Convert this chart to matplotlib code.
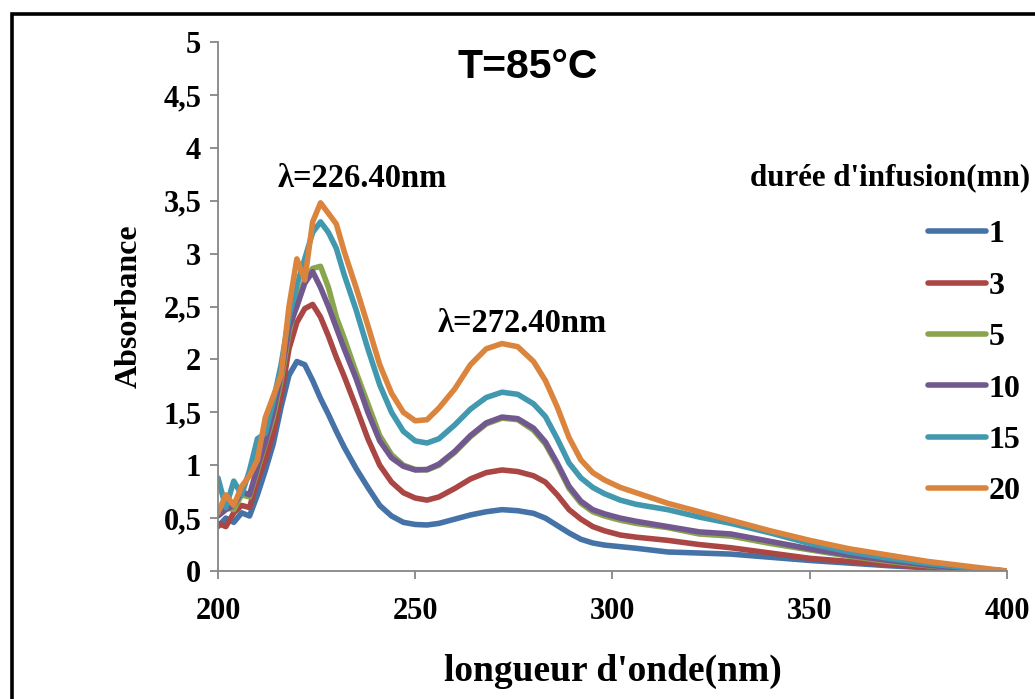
import matplotlib
matplotlib.use("Agg")
import matplotlib.pyplot as plt
from matplotlib.patches import Rectangle

# wavelength grid (nm)
wavelength = [200, 202, 204, 206, 208, 210, 212, 214, 216, 218, 220, 222, 224, 226, 228, 230, 232,
              235, 238, 241, 244, 247, 250, 253, 256, 260, 264, 268, 272, 276, 280, 283, 286, 289, 292,
              295, 298, 302, 306, 314, 322, 330, 340, 350, 360, 370, 380, 390, 400]

# absorbance per infusion time (mn)
abs_1 = [0.42, 0.50, 0.46, 0.55, 0.52, 0.72, 0.95, 1.20, 1.55, 1.85, 1.98, 1.95, 1.80, 1.63, 1.48, 1.32, 1.17,
         0.97, 0.79, 0.62, 0.52, 0.46, 0.44, 0.435, 0.45, 0.49, 0.53, 0.56, 0.58, 0.57, 0.545, 0.50, 0.43, 0.36, 0.30,
         0.265, 0.245, 0.23, 0.215, 0.18, 0.17, 0.16, 0.13, 0.10, 0.075, 0.05, 0.03, 0.015, 0.0]
abs_3 = [0.45, 0.42, 0.55, 0.62, 0.60, 0.86, 1.05, 1.30, 1.65, 2.10, 2.35, 2.48, 2.52, 2.40, 2.22, 2.02, 1.84,
         1.55, 1.25, 1.00, 0.84, 0.74, 0.69, 0.67, 0.70, 0.78, 0.87, 0.93, 0.955, 0.94, 0.90, 0.84, 0.72, 0.58, 0.49,
         0.42, 0.38, 0.34, 0.32, 0.29, 0.25, 0.22, 0.17, 0.12, 0.09, 0.06, 0.035, 0.015, 0.0]
abs_5 = [0.55, 0.60, 0.58, 0.72, 0.70, 0.95, 1.20, 1.45, 1.80, 2.25, 2.55, 2.75, 2.86, 2.88, 2.68, 2.40, 2.20,
         1.88, 1.58, 1.28, 1.10, 1.00, 0.96, 0.955, 1.00, 1.12, 1.27, 1.39, 1.445, 1.43, 1.33, 1.20, 1.00, 0.78, 0.64,
         0.56, 0.52, 0.48, 0.45, 0.41, 0.35, 0.33, 0.26, 0.20, 0.14, 0.09, 0.05, 0.02, 0.0]
abs_10 = [0.52, 0.58, 0.62, 0.75, 0.72, 0.98, 1.22, 1.50, 1.85, 2.30, 2.50, 2.72, 2.83, 2.68, 2.50, 2.30, 2.10,
          1.82, 1.50, 1.23, 1.07, 0.99, 0.955, 0.96, 1.01, 1.13, 1.28, 1.40, 1.455, 1.44, 1.35, 1.22, 1.02, 0.80, 0.66,
          0.58, 0.54, 0.50, 0.47, 0.42, 0.37, 0.35, 0.28, 0.21, 0.15, 0.10, 0.055, 0.02, 0.0]
abs_15 = [0.88, 0.60, 0.85, 0.72, 0.95, 1.25, 1.30, 1.60, 1.95, 2.40, 2.70, 2.95, 3.20, 3.30, 3.20, 3.05, 2.80,
          2.47, 2.10, 1.76, 1.50, 1.32, 1.23, 1.21, 1.25, 1.38, 1.53, 1.64, 1.69, 1.67, 1.58, 1.46, 1.25, 1.02, 0.88,
          0.79, 0.73, 0.67, 0.63, 0.58, 0.51, 0.45, 0.36, 0.26, 0.18, 0.12, 0.07, 0.03, 0.0]
abs_20 = [0.55, 0.72, 0.62, 0.80, 0.90, 1.05, 1.45, 1.65, 1.85, 2.50, 2.95, 2.75, 3.30, 3.48, 3.38, 3.28, 3.02,
          2.68, 2.32, 1.95, 1.68, 1.50, 1.42, 1.43, 1.54, 1.72, 1.95, 2.10, 2.15, 2.12, 1.98, 1.80, 1.55, 1.26, 1.05,
          0.93, 0.86, 0.79, 0.74, 0.64, 0.56, 0.48, 0.38, 0.29, 0.21, 0.15, 0.09, 0.045, 0.0]

labels = ["1", "3", "5", "10", "15", "20"]
series = [abs_1, abs_3, abs_5, abs_10, abs_15, abs_20]
colors = ["#4572A7", "#AA4643", "#89A54E", "#71588F", "#4198AF", "#DB843D"]

x_ticks = [200, 250, 300, 350, 400]
y_ticks = [0, 0.5, 1, 1.5, 2, 2.5, 3, 3.5, 4, 4.5, 5]
y_tick_labels = ["0", "0,5", "1", "1,5", "2", "2,5", "3", "3,5", "4", "4,5", "5"]

serif = "Liberation Serif"
axis_grey = "#868686"

fig = plt.figure(figsize=(10.35, 6.99), dpi=100)
ax = fig.add_axes([0.2106, 0.1831, 0.7623, 0.7568])

for vals, lab, col in zip(series, labels, colors):
    ax.plot(wavelength, vals, color=col, lw=4, label=lab, solid_capstyle="round", solid_joinstyle="round")

ax.set_xlim(200, 400)
ax.set_ylim(0, 5)
ax.set_xticks(x_ticks)
ax.set_yticks(y_ticks)
ax.set_yticklabels(y_tick_labels)

for side in ("top", "right"):
    ax.spines[side].set_visible(False)
for side in ("left", "bottom"):
    ax.spines[side].set_color(axis_grey)
    ax.spines[side].set_linewidth(1.3)

ax.tick_params(axis="both", direction="out", length=6, width=1.3, color=axis_grey)
ax.tick_params(axis="x", pad=13)
ax.tick_params(axis="y", pad=6)
for t in ax.get_xticklabels() + ax.get_yticklabels():
    t.set_fontfamily(serif)
    t.set_fontweight("bold")
    t.set_fontsize(22)

ax.set_xlabel("longueur d'onde(nm)", fontfamily=serif, fontweight="bold", fontsize=27, labelpad=20)
ax.set_ylabel("Absorbance", fontfamily=serif, fontweight="bold", fontsize=23, labelpad=14)

ax.text(278.6, 4.76, "T=85°C", ha="center", va="center", fontfamily="Liberation Sans",
        fontweight="bold", fontsize=29.5)
ax.text(236.5, 3.71, "λ=226.40nm", ha="center", va="center", fontfamily=serif,
        fontweight="bold", fontsize=23.5)
ax.text(277.1, 2.34, "λ=272.40nm", ha="center", va="center", fontfamily=serif,
        fontweight="bold", fontsize=23.5)

fig.text(750 / 1035, 1 - 178 / 699, "durée d'infusion(mn)", ha="left", va="center",
         fontfamily=serif, fontweight="bold", fontsize=22.3)

leg = ax.legend(loc="upper left", bbox_to_anchor=(928 / 1035, 1 - 220 / 699),
                bbox_transform=fig.transFigure, frameon=False, borderpad=0, borderaxespad=0,
                handlelength=1.8, handletextpad=0.1, labelspacing=0.69,
                prop={"family": serif, "weight": "bold", "size": 23})

# outer chart frame (right and bottom edges fall outside the image)
top = 1 - 14 / 699
fig.add_artist(Rectangle((12 / 1035, -0.2), 1.2, top + 0.2, transform=fig.transFigure,
                         fill=False, edgecolor="black", lw=2.6, clip_on=False))

fig.savefig("out.png", dpi=100)
